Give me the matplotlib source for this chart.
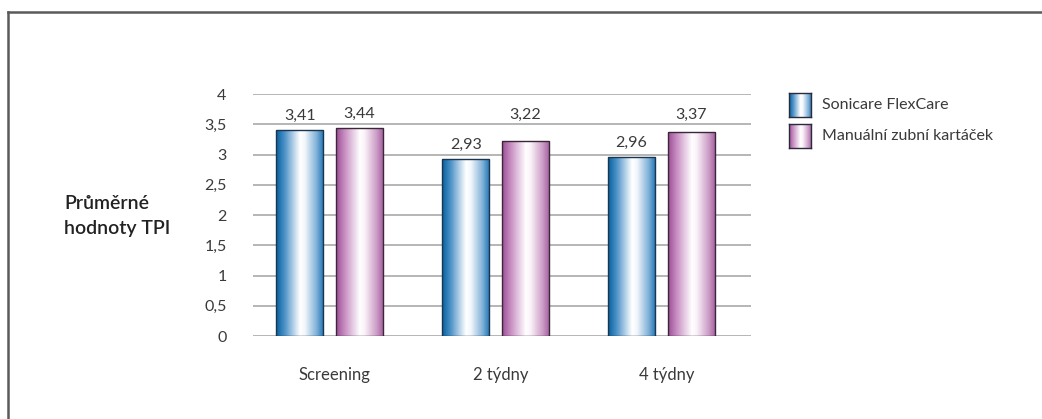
"""Průměrné hodnoty TPI - Sonicare FlexCare vs. manuální kartáček."""

import matplotlib
matplotlib.use("Agg")
import matplotlib.pyplot as plt
import numpy as np
from matplotlib.colors import to_rgb
from matplotlib.lines import Line2D

# Data
categories = ["Screening", "2 týdny", "4 týdny"]
series_names = ["Sonicare FlexCare", "Manuální zubní kartáček"]
sonicare = [3.41, 2.93, 2.96]
manual = [3.44, 3.22, 3.37]
value_labels_sonicare = ["3,41", "2,93", "2,96"]
value_labels_manual = ["3,44", "3,22", "3,37"]
y_ticks = [0, 0.5, 1, 1.5, 2, 2.5, 3, 3.5, 4]
y_tick_labels = ["0", "0,5", "1", "1,5", "2", "2,5", "3", "3,5", "4"]

plt.rcParams["font.family"] = ["Lato", "DejaVu Sans"]
TEXT = "#3a3a3a"

# Horizontal gradients (edge colour -> white -> edge colour)
BLUE_STOPS = [(0.0, "#04609e"), (0.18, "#4d92c8"), (0.5, "#ffffff"),
              (0.6, "#f4f8fc"), (0.85, "#7eb0d8"), (1.0, "#1d74b2")]
PURPLE_STOPS = [(0.0, "#9c4d96"), (0.18, "#c88ec2"), (0.5, "#ffffff"),
                (0.6, "#faf2f8"), (0.85, "#cc9cc6"), (1.0, "#a25c9c")]


def gradient(stops, n=256):
    pos = [p for p, _ in stops]
    cols = np.array([to_rgb(c) for _, c in stops])
    t = np.linspace(0, 1, n)
    rgb = np.stack([np.interp(t, pos, cols[:, k]) for k in range(3)], axis=-1)
    return rgb[np.newaxis, :, :]


def fill_gradient(ax, bars, stops):
    img = gradient(stops)
    for rect in bars:
        x0, y0 = rect.get_x(), rect.get_y()
        w, h = rect.get_width(), rect.get_height()
        im = ax.imshow(img, extent=[x0, x0 + w, y0, y0 + h], aspect="auto",
                       interpolation="bilinear", zorder=2)
        im.set_clip_path(rect)


fig = plt.figure(figsize=(10.42, 4.19), dpi=100)
ax = fig.add_axes([0.2428, 0.198, 0.4779, 0.5776])

x = np.arange(len(categories))
width = 0.285
offset = 0.18

bars_s = ax.bar(x - offset, sonicare, width, facecolor="none",
                edgecolor="#1b3550", linewidth=1.0, zorder=3)
bars_m = ax.bar(x + offset, manual, width, facecolor="none",
                edgecolor="#3a2838", linewidth=1.0, zorder=3)
fill_gradient(ax, bars_s, BLUE_STOPS)
fill_gradient(ax, bars_m, PURPLE_STOPS)

# Value labels
for xi, v, lab in zip(x - offset, sonicare, value_labels_sonicare):
    ax.text(xi, v + 0.235, lab, ha="center", va="center", fontsize=11.5, color=TEXT)
for xi, v, lab in zip(x + offset, manual, value_labels_manual):
    ax.text(xi, max(v + 0.235, 3.66), lab, ha="center", va="center",
            fontsize=11.5, color=TEXT)

ax.set_xlim(-0.461, 2.539)
ax.set_ylim(0, 4)
ax.set_yticks(y_ticks)
ax.set_yticklabels(y_tick_labels)
ax.set_xticks(x + 0.03)
ax.set_xticklabels(categories)
ax.tick_params(axis="y", length=0, pad=19, labelsize=11.5, labelcolor=TEXT)
ax.tick_params(axis="x", length=0, pad=22, labelsize=12, labelcolor=TEXT)
ax.grid(axis="y", color="#b5b5b5", linewidth=1.4, zorder=0)
ax.set_axisbelow(True)
for spine in ax.spines.values():
    spine.set_visible(False)

# Y label
fig.text(64 / 1042, 1 - 216 / 419, "Průměrné\nhodnoty TPI", ha="left", va="center",
         multialignment="left", fontsize=14, fontweight="semibold",
         color="#222222", linespacing=1.55)

# Legend (gradient swatches)
for i, (name, stops) in enumerate(zip(series_names, [BLUE_STOPS, PURPLE_STOPS])):
    top = 93 + i * 31
    sw = fig.add_axes([789 / 1042, 1 - (top + 24) / 419, 22 / 1042, 24 / 419])
    sw.imshow(gradient(stops), aspect="auto", interpolation="bilinear")
    sw.set_xticks([])
    sw.set_yticks([])
    for spine in sw.spines.values():
        spine.set_color("#2a2a3a")
        spine.set_linewidth(1.0)
    fig.text(822 / 1042, 1 - (top + 12) / 419, name, ha="left", va="center",
             fontsize=11.5, color=TEXT)

# Frame
fig.add_artist(Line2D([8 / 1042, 8 / 1042], [0, 1 - 12 / 419],
                      transform=fig.transFigure, color="#5a5a5a", linewidth=1.8))
fig.add_artist(Line2D([8 / 1042, 1], [1 - 12 / 419, 1 - 12 / 419],
                      transform=fig.transFigure, color="#5a5a5a", linewidth=1.8))

fig.savefig("out.png", dpi=100)
